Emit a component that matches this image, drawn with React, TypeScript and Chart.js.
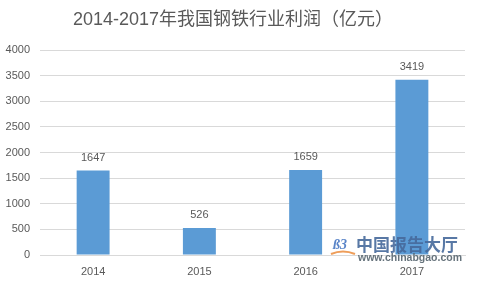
import React, { useEffect, useRef } from "react";
import { Chart, registerables } from "chart.js";

Chart.register(...registerables);

const categories = ["2014", "2015", "2016", "2017"];
const profits = [1647, 526, 1659, 3419];
const yTicks = [0, 500, 1000, 1500, 2000, 2500, 3000, 3500, 4000];
const titleText = "2014-2017年我国钢铁行业利润（亿元）";
const watermarkName = "中国报告大厅";
const watermarkUrl = "www.chinabgao.com";

const FONT = "'Liberation Sans', 'Noto Sans CJK SC', sans-serif";

const overlayPlugin = {
  id: "overlay",
  afterDatasetsDraw(chart: any) {
    const ctx = chart.ctx;
    const meta = chart.getDatasetMeta(0);
    ctx.save();
    ctx.fillStyle = "#595959";
    ctx.font = `11px ${FONT}`;
    ctx.textAlign = "center";
    ctx.textBaseline = "middle";
    meta.data.forEach((bar: any, i: number) => {
      ctx.fillText(String(profits[i]), bar.x, bar.y - 13);
    });
    ctx.restore();
  },
  afterDraw(chart: any) {
    const ctx = chart.ctx;
    ctx.save();
    // title
    ctx.fillStyle = "#595959";
    ctx.font = `18px 'Liberation Sans', 'Noto Sans CJK SC', sans-serif`;
    ctx.textAlign = "center";
    ctx.textBaseline = "middle";
    ctx.fillText(titleText, 233, 20);
    // watermark
    ctx.textAlign = "left";
    ctx.fillStyle = "rgba(70,105,155,0.9)";
    ctx.font = `bold 17px 'Noto Sans CJK SC', sans-serif`;
    ctx.fillText(watermarkName, 356, 245);
    ctx.fillStyle = "rgba(85,100,110,0.9)";
    ctx.font = `bold 10.5px 'Liberation Sans', sans-serif`;
    ctx.fillText(watermarkUrl, 358, 258);
    // small logo mark
    ctx.fillStyle = "rgba(60,110,190,0.85)";
    ctx.font = `bold italic 14px 'Liberation Serif', serif`;
    ctx.fillText("ß3", 333, 245);
    ctx.strokeStyle = "rgba(235,140,60,0.85)";
    ctx.lineWidth = 2;
    ctx.beginPath();
    ctx.moveTo(331, 254);
    ctx.quadraticCurveTo(343, 249, 355, 254);
    ctx.stroke();
    ctx.restore();
  },
};

export default function App() {
  const ref = useRef<HTMLCanvasElement | null>(null);
  useEffect(() => {
    if (!ref.current) return;
    const chart = new Chart(ref.current, {
      type: "bar",
      data: {
        labels: categories,
        datasets: [
          {
            data: profits,
            backgroundColor: "#5B9BD5",
            barPercentage: 0.31,
            categoryPercentage: 1,
          },
        ],
      },
      options: {
        animation: false,
        responsive: false,
        maintainAspectRatio: false,
        layout: { padding: { top: 50, right: 12, left: 0, bottom: 0 } },
        plugins: {
          legend: { display: false },
          title: { display: false },
          tooltip: { enabled: false },
        },
        scales: {
          x: {
            grid: { display: false },
            border: { display: true, color: "#d9d9d9" },
            ticks: { color: "#595959", font: { size: 11, family: FONT }, padding: 2 },
            afterFit: (s: any) => {
              s.height = 28;
            },
          },
          y: {
            min: 0,
            max: 4000,
            afterBuildTicks: (s: any) => {
              s.ticks = yTicks.map((v) => ({ value: v }));
            },
            grid: { color: "#d9d9d9", drawTicks: false },
            border: { display: false },
            ticks: {
              color: "#595959",
              font: { size: 11, family: FONT },
              padding: 10,
              callback: (v: any) => String(v),
            },
            afterFit: (s: any) => {
              s.width = 40;
            },
          },
        },
      },
      plugins: [overlayPlugin],
    });
    return () => chart.destroy();
  }, []);
  return (
    <div style={{ position: "fixed", left: 0, top: 0, width: 477, height: 283, background: "#fff" }}>
      <canvas ref={ref} width={477} height={283} style={{ width: 477, height: 283 }} />
    </div>
  );
}
